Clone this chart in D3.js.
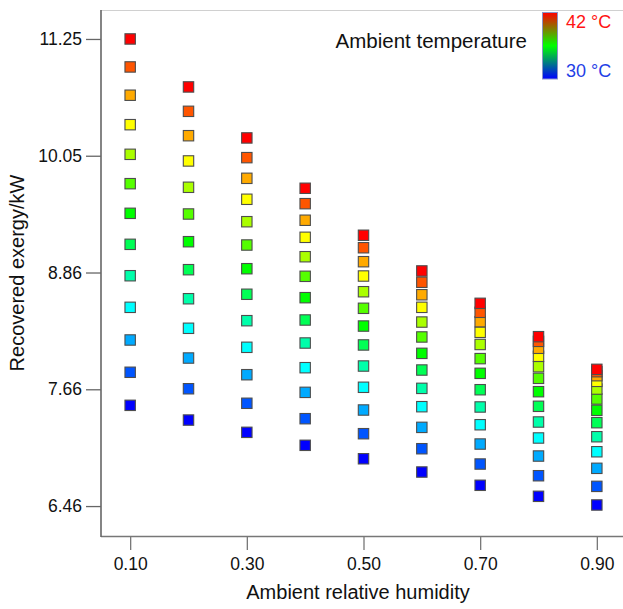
<!DOCTYPE html>
<html>
<head>
<meta charset="utf-8">
<script src="https://cdn.jsdelivr.net/npm/d3@7"></script>
<style>
  html, body { margin: 0; padding: 0; background: #fff; }
  svg { display: block; font-family: "Liberation Sans", Arial, Helvetica, sans-serif; }
</style>
</head>
<body>
<svg id="chart" width="623" height="609"></svg>
<script>
// ---- data ----
const humidity = [0.1, 0.2, 0.3, 0.4, 0.5, 0.6, 0.7, 0.8, 0.9];
const temperatures = [30, 31, 32, 33, 34, 35, 36, 37, 38, 39, 40, 41, 42];
// recovered exergy (kW) per humidity column, ordered by temperature 30 -> 42 °C
const exergy_rh010 = [7.493, 7.832, 8.163, 8.498, 8.822, 9.144, 9.462, 9.766, 10.067, 10.371, 10.673, 10.963, 11.250];
const exergy_rh020 = [7.342, 7.663, 7.978, 8.283, 8.586, 8.884, 9.171, 9.455, 9.729, 9.999, 10.258, 10.508, 10.758];
const exergy_rh030 = [7.216, 7.514, 7.807, 8.088, 8.361, 8.632, 8.894, 9.137, 9.376, 9.606, 9.821, 10.033, 10.235];
const exergy_rh040 = [7.083, 7.356, 7.626, 7.879, 8.132, 8.368, 8.597, 8.816, 9.017, 9.216, 9.391, 9.561, 9.719];
const exergy_rh050 = [6.945, 7.202, 7.445, 7.678, 7.896, 8.112, 8.306, 8.488, 8.658, 8.819, 8.966, 9.109, 9.237];
const exergy_rh060 = [6.809, 7.048, 7.267, 7.479, 7.667, 7.855, 8.026, 8.194, 8.347, 8.498, 8.627, 8.755, 8.871];
const exergy_rh070 = [6.673, 6.891, 7.096, 7.294, 7.476, 7.653, 7.821, 7.972, 8.117, 8.242, 8.351, 8.447, 8.539];
const exergy_rh080 = [6.560, 6.771, 6.973, 7.158, 7.322, 7.483, 7.633, 7.770, 7.889, 7.996, 8.078, 8.149, 8.197];
const exergy_rh090 = [6.471, 6.662, 6.847, 7.017, 7.171, 7.315, 7.442, 7.558, 7.660, 7.739, 7.797, 7.838, 7.862];
const exergySeries = [exergy_rh010, exergy_rh020, exergy_rh030, exergy_rh040, exergy_rh050,
                      exergy_rh060, exergy_rh070, exergy_rh080, exergy_rh090];

const xTickValues = [0.1, 0.3, 0.5, 0.7, 0.9];
const xTickLabels = ["0.10", "0.30", "0.50", "0.70", "0.90"];
const yTickValues = [6.46, 7.6575, 8.855, 10.0525, 11.25];
const yTickLabels = ["6.46", "7.66", "8.86", "10.05", "11.25"];

const xTitle = "Ambient relative humidity";
const yTitle = "Recovered exergy/kW";
const legendTitle = "Ambient temperature";
const legendHigh = "42 °C";
const legendLow = "30 °C";

// ---- layout ----
const svg = d3.select("#chart");
const padL = 101, padR = 626, padT = 10, padB = 536;

const x = d3.scaleLinear().domain([0.05, 0.95]).range([padL, padR]);
const y = d3.scaleLinear().domain([6.153, 11.547]).range([padB, padT]);
const color = d3.scaleOrdinal()
  .domain(temperatures)
  .range(temperatures.map(t => d3.hsl(240 - 20 * (t - 30), 1, 0.5).formatHex()));

// top frame line
svg.append("line")
  .attr("x1", padL).attr("x2", 623).attr("y1", padT + 0.5).attr("y2", padT + 0.5)
  .attr("stroke", "#d0d0d0").attr("stroke-width", 1.2);

// x axis
const xAxis = d3.axisBottom(x)
  .tickValues(xTickValues)
  .tickFormat((d, i) => xTickLabels[i])
  .tickSize(14).tickPadding(8).tickSizeOuter(0);
const gx = svg.append("g").attr("transform", `translate(0,${padB})`).call(xAxis);
gx.select(".domain").attr("stroke", "#777").attr("stroke-width", 1.5)
  .attr("d", `M${padL},0.5H623`);
gx.selectAll(".tick line").attr("stroke", "#777").attr("stroke-width", 1.3);
gx.selectAll(".tick text").attr("fill", "#111").attr("font-size", 17.5)
  .attr("font-family", "Liberation Sans, Arial, sans-serif");

// y axis
const yAxis = d3.axisLeft(y)
  .tickValues(yTickValues)
  .tickFormat((d, i) => yTickLabels[i])
  .tickSize(15).tickPadding(4).tickSizeOuter(0);
const gy = svg.append("g").attr("transform", `translate(${padL},0)`).call(yAxis);
gy.select(".domain").attr("stroke", "#666").attr("stroke-width", 1.6)
  .attr("d", `M0,${padT}V${padB + 1}`);
gy.selectAll(".tick line").attr("stroke", "#666").attr("stroke-width", 1.3);
gy.selectAll(".tick text").attr("fill", "#111").attr("font-size", 17.5)
  .attr("font-family", "Liberation Sans, Arial, sans-serif");

// axis titles
svg.append("text")
  .attr("x", (padL + 623) / 2 - 4).attr("y", 599)
  .attr("text-anchor", "middle").attr("font-size", 20).attr("fill", "#111")
  .text(xTitle);
svg.append("text")
  .attr("transform", `translate(24,${(padT + padB) / 2}) rotate(-90)`)
  .attr("text-anchor", "middle").attr("font-size", 20).attr("fill", "#111")
  .text(yTitle);

// points
const points = [];
humidity.forEach((h, i) => {
  temperatures.forEach((t, j) => {
    points.push({ h, t, v: exergySeries[i][j] });
  });
});
const sz = 10.4;
svg.append("g").selectAll("rect")
  .data(points)
  .join("rect")
  .attr("x", d => x(d.h) - sz / 2)
  .attr("y", d => y(d.v) - sz / 2)
  .attr("width", sz).attr("height", sz)
  .attr("fill", d => color(d.t))
  .attr("stroke", "#4d4d4d").attr("stroke-width", 1.1);

// legend
const defs = svg.append("defs");
const grad = defs.append("linearGradient").attr("id", "tgrad")
  .attr("x1", 0).attr("x2", 0).attr("y1", 0).attr("y2", 1);
grad.append("stop").attr("offset", "0%").attr("stop-color", "#ff0000");
grad.append("stop").attr("offset", "50%").attr("stop-color", "#00ff00");
grad.append("stop").attr("offset", "100%").attr("stop-color", "#0000ff");

svg.append("rect")
  .attr("x", 542.5).attr("y", 12.5).attr("width", 15).attr("height", 66.5)
  .attr("fill", "url(#tgrad)").attr("stroke", "#8a94c8").attr("stroke-width", 1);

svg.append("text")
  .attr("x", 527).attr("y", 48)
  .attr("text-anchor", "end").attr("font-size", 20.5).attr("fill", "#111")
  .text(legendTitle);
svg.append("text")
  .attr("x", 566).attr("y", 27.5)
  .attr("font-size", 18).attr("fill", "#ff1414")
  .text(legendHigh);
svg.append("text")
  .attr("x", 566).attr("y", 76.5)
  .attr("font-size", 18).attr("fill", "#1f3fe6")
  .text(legendLow);
</script>
</body>
</html>
